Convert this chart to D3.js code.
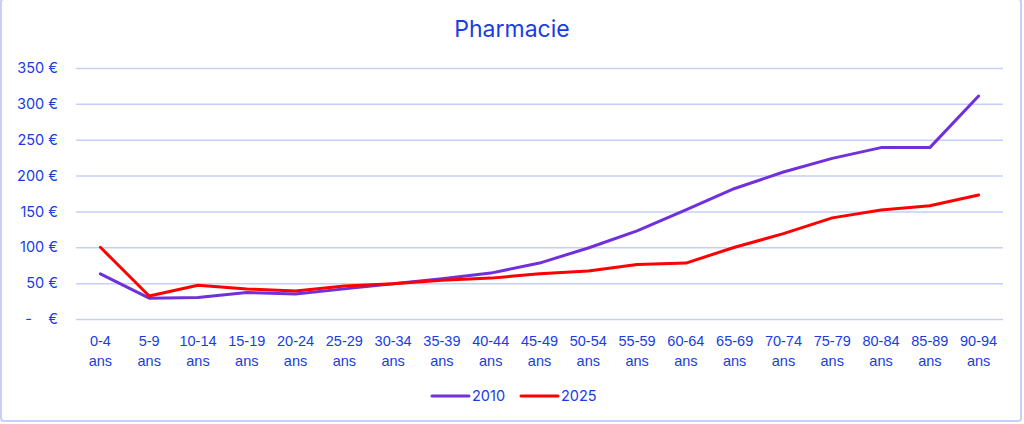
<!DOCTYPE html>
<html>
<head>
<meta charset="utf-8">
<script src="https://cdn.jsdelivr.net/npm/d3@7"></script>
<style>
  html, body { margin: 0; padding: 0; background: #fff; }
  svg { display: block; font-family: Inter, "Liberation Sans", sans-serif; }
</style>
</head>
<body>
<div id="chart"></div>
<script>
// tranches d'age
var ages = ["0-4","5-9","10-14","15-19","20-24","25-29","30-34","35-39","40-44","45-49",
            "50-54","55-59","60-64","65-69","70-74","75-79","80-84","85-89","90-94"];
var val2010 = [63, 29, 30, 37, 35, 42, 49, 56, 64, 78, 99, 123, 152, 182, 205, 224, 239, 239, 311];
var val2025 = [100, 32, 47, 42, 39, 46, 49, 54, 57, 63, 67, 76, 78, 100, 119, 141, 152, 158, 173];
var yTicks = [0, 50, 100, 150, 200, 250, 300, 350];
var series = ["2010", "2025"];

var W = 1024, H = 424;
var margin = {top: 68, right: 21, bottom: 105, left: 76};
var width = W - margin.left - margin.right;
var height = H - margin.top - margin.bottom;

var blue = "#1a3ce4";
var gridCol = "#c6cff9";
var colors = {"2010": "#7030dc", "2025": "#ff0000"};
var fs = "14.5px";

var svg = d3.select("#chart").append("svg")
  .attr("width", W)
  .attr("height", H);

// cadre
svg.append("rect")
  .attr("x", 1).attr("y", -1)
  .attr("width", 1020).attr("height", 422)
  .attr("rx", 3)
  .attr("fill", "none")
  .attr("stroke", gridCol)
  .attr("stroke-width", 2);

svg.append("text")
  .attr("x", W / 2).attr("y", 37)
  .attr("text-anchor", "middle")
  .style("font-size", "23px")
  .style("fill", blue)
  .text("Pharmacie");

var g = svg.append("g")
  .attr("transform", "translate(" + margin.left + "," + margin.top + ")");

var x = d3.scaleBand().domain(ages).range([0, width]);
var y = d3.scaleLinear().domain([0, 350]).range([height, 0]);

// grille + axe y
var yAxis = g.append("g")
  .call(d3.axisLeft(y).tickValues(yTicks).tickSize(-width)
    .tickFormat(function(d) { return d == 0 ? "-    €" : d + " €"; }));
yAxis.select(".domain").remove();
yAxis.selectAll(".tick line").attr("stroke", gridCol).attr("stroke-width", 1.5);
yAxis.selectAll(".tick text")
  .attr("x", -18)
  .style("white-space", "pre")
  .style("font-size", fs)
  .style("font-family", "Inter, 'Liberation Sans', sans-serif")
  .style("fill", blue);

// axe x sur deux lignes
var xAxis = g.append("g")
  .attr("transform", "translate(0," + height + ")")
  .call(d3.axisBottom(x).tickSize(0).tickFormat(""));
xAxis.select(".domain").remove();
xAxis.selectAll(".tick").each(function(d) {
  var t = d3.select(this).append("text")
    .attr("text-anchor", "middle")
    .style("font-size", fs)
    .style("fill", blue);
  t.append("tspan").attr("x", 0).attr("y", 27).text(d);
  t.append("tspan").attr("x", 0).attr("y", 47).text("ans");
});

var line = d3.line()
  .x(function(d, i) { return x(ages[i]) + x.bandwidth() / 2; })
  .y(function(d) { return y(d); });

[val2010, val2025].forEach(function(vals, k) {
  g.append("path")
    .attr("d", line(vals))
    .attr("fill", "none")
    .attr("stroke", colors[series[k]])
    .attr("stroke-width", 3)
    .attr("stroke-linejoin", "round")
    .attr("stroke-linecap", "round");
});

// legende
var legend = svg.append("g").attr("transform", "translate(432,396)");
var legX = [0, 89];
series.forEach(function(s, k) {
  var lg = legend.append("g").attr("transform", "translate(" + legX[k] + ",0)");
  lg.append("line")
    .attr("x1", 0).attr("x2", 37)
    .attr("y1", 0).attr("y2", 0)
    .attr("stroke", colors[s])
    .attr("stroke-width", 3)
    .attr("stroke-linecap", "round");
  lg.append("text")
    .attr("x", 40).attr("y", 5)
    .style("font-size", fs)
    .style("fill", blue)
    .text(s);
});
</script>
</body>
</html>
